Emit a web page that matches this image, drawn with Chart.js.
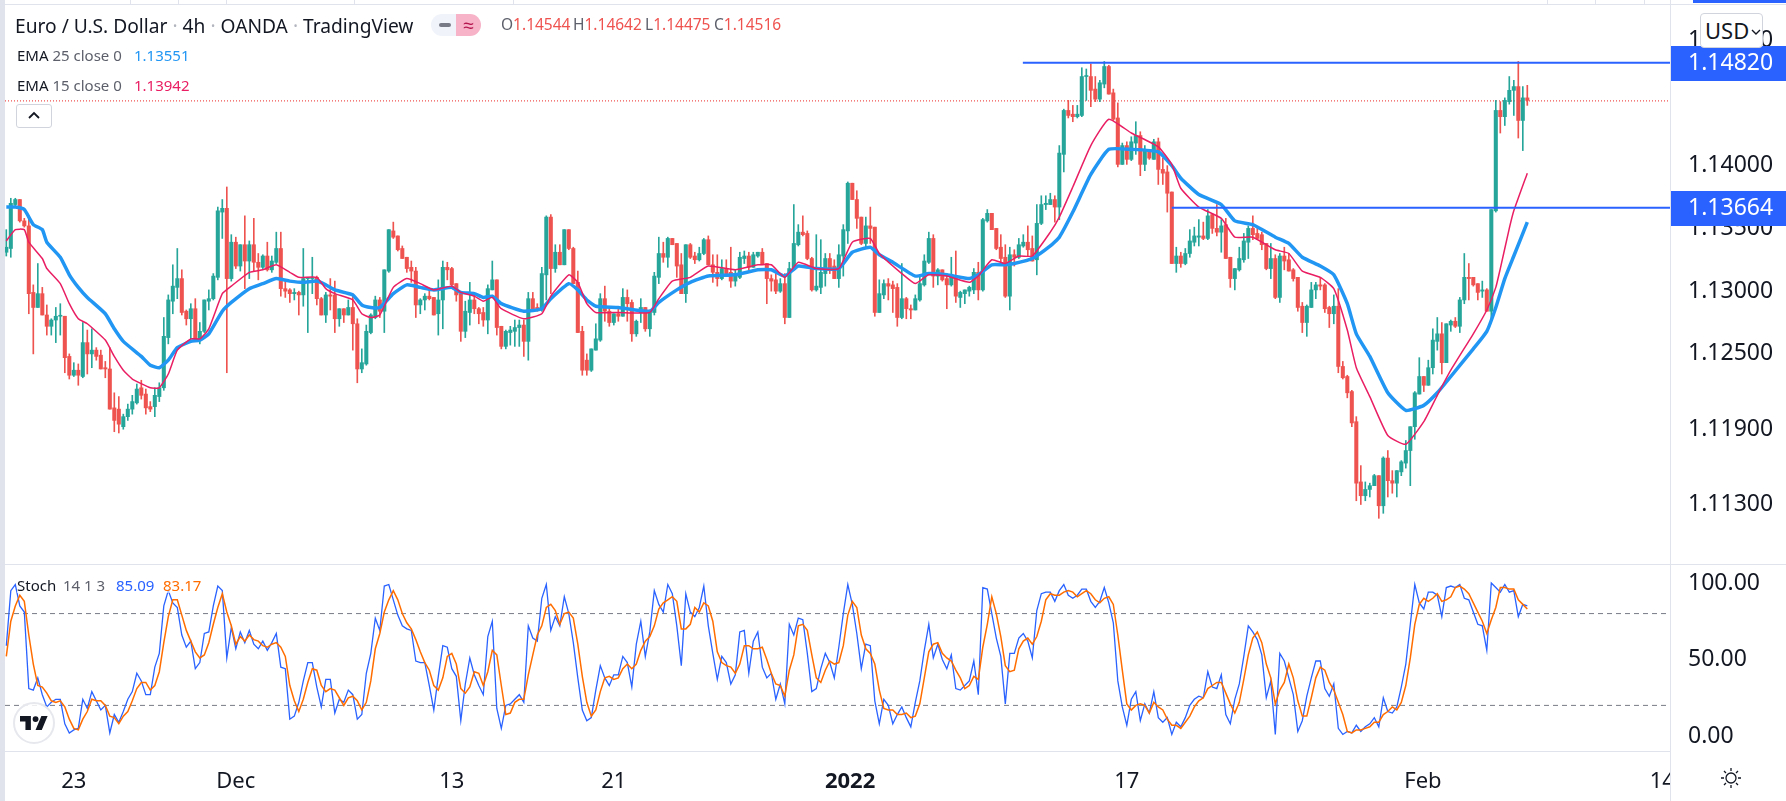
<!DOCTYPE html>
<html>
<head>
<meta charset="utf-8">
<title>Euro / U.S. Dollar</title>
<script src="https://cdn.jsdelivr.net/npm/chart.js@4/dist/chart.umd.min.js"></script>
<style>
html,body{margin:0;padding:0;background:#fff;overflow:hidden}
#wrap{position:relative;width:1786px;height:801px;font-family:"Noto Sans",sans-serif;color:#131722}
canvas{position:absolute;left:0;top:0}
.t{position:absolute;white-space:nowrap;line-height:1}
.l{position:absolute;background:#e0e3eb}
</style>
</head>
<body>
<div id="wrap">
<canvas id="mycanvas" width="1786" height="801"></canvas>

<div class="l" style="left:0;top:0;width:5px;height:801px"></div>
<div class="l" style="left:0;top:4px;width:1786px;height:1px"></div>
<div class="l" style="left:130px;top:0;width:1px;height:4px"></div>
<div class="l" style="left:178px;top:0;width:1px;height:4px"></div>
<div class="l" style="left:226px;top:0;width:1px;height:4px"></div>
<div class="l" style="left:354px;top:0;width:1px;height:4px"></div>
<div class="l" style="left:513px;top:0;width:1px;height:4px"></div>
<div class="l" style="left:1547px;top:0;width:1px;height:4px"></div>
<div class="l" style="left:1595px;top:0;width:1px;height:4px"></div>
<div class="l" style="left:1644px;top:0;width:1px;height:4px"></div>
<div style="position:absolute;left:1693px;top:0;width:93px;height:3px;background:#2962ff"></div>
<div style="position:absolute;left:1671px;top:752px;width:115px;height:49px;background:#fff"></div>
<div class="l" style="left:1670px;top:0;width:1px;height:801px"></div>
<div class="l" style="left:5px;top:564px;width:1781px;height:1px"></div>
<div class="l" style="left:5px;top:751px;width:1665px;height:1px"></div>

<div class="t" style="left:15px;top:16px;font-size:19.2px">Euro / U.S. Dollar <span style="color:#b2b5be">·</span> 4h <span style="color:#b2b5be">·</span> OANDA <span style="color:#b2b5be">·</span> TradingView</div>
<div style="position:absolute;left:431px;top:14px;width:25px;height:22px;background:#f0f3fa;border-radius:11px 0 0 11px"></div>
<div style="position:absolute;left:439px;top:23px;width:12px;height:4px;background:#787b86;border-radius:2px"></div>
<div class="t" style="left:456px;top:14px;width:25px;height:22px;background:#f7b3c8;border-radius:0 11px 11px 0;color:#b5174f;font-size:19px;line-height:22px;text-align:center">≈</div>

<div class="t" style="left:501px;top:17px;font-size:15.5px;color:#5d606b">O<span style="color:#ef5350">1.14544</span></div>
<div class="t" style="left:573px;top:17px;font-size:15.5px;color:#5d606b">H<span style="color:#ef5350">1.14642</span></div>
<div class="t" style="left:645px;top:17px;font-size:15.5px;color:#5d606b">L<span style="color:#ef5350">1.14475</span></div>
<div class="t" style="left:714px;top:17px;font-size:15.5px;color:#5d606b">C<span style="color:#ef5350">1.14516</span></div>

<div class="t" style="left:17px;top:48px;font-size:15px">EMA <span style="color:#5d606b">25 close 0</span></div>
<div class="t" style="left:134px;top:48px;font-size:15px;color:#2196f3">1.13551</div>
<div class="t" style="left:17px;top:78px;font-size:15px">EMA <span style="color:#5d606b">15 close 0</span></div>
<div class="t" style="left:134px;top:78px;font-size:15px;color:#e91e63">1.13942</div>

<div style="position:absolute;left:16px;top:104px;width:36px;height:24px;box-sizing:border-box;border:1px solid #d1d4dc;border-radius:3px;background:#fff">
<svg width="34" height="22" viewBox="0 0 34 22" style="display:block"><path d="M12 13l5-5 5 5" fill="none" stroke="#131722" stroke-width="1.8"/></svg>
</div>

<div class="t" style="left:17px;top:578px;font-size:15px;background:rgba(255,255,255,.6)">Stoch</div>
<div class="t" style="left:63px;top:578px;font-size:15px;color:#5d606b;background:rgba(255,255,255,.6)">14 1 3</div>
<div class="t" style="left:116px;top:578px;font-size:15px;color:#2962ff;background:rgba(255,255,255,.6)">85.09</div>
<div class="t" style="left:163px;top:578px;font-size:15px;color:#ff6d00;background:rgba(255,255,255,.6)">83.17</div>

<div style="position:absolute;left:13px;top:702px;width:42px;height:42px;box-sizing:border-box;border:2px solid #e6e8ee;border-radius:50%;background:rgba(255,255,255,.85)">
<svg width="28" height="16" viewBox="0 0 36 20" style="position:absolute;left:5px;top:11px"><path d="M14 19H7V8H0V1h14v18zM28 19h-8l7.5-18h8L28 19z" fill="#131722"/><circle cx="20" cy="5" r="3.8" fill="#131722"/></svg>
</div>

<div class="t" style="left:1700px;top:13px;width:63px;height:35px;box-sizing:border-box;background:#fff;border:1px solid #d1d4dc;border-radius:4px;font-size:22px;line-height:33px;padding-left:4px">USD<svg width="10" height="6" viewBox="0 0 10 6" style="position:absolute;left:50px;top:15px"><path d="M1 1l4 4 4-4" fill="none" stroke="#131722" stroke-width="1.4"/></svg></div>

<svg width="22" height="22" viewBox="0 0 22 22" style="position:absolute;left:1720px;top:767px" fill="none" stroke="#131722" stroke-width="1.3">
<circle cx="11" cy="11" r="5"/><path d="M11 1v3M11 18v3M1 11h3M18 11h3M4 4l2 2M16 16l2 2M18 4l-2 2M6 16l-2 2"/>
</svg>
</div>

<script>
// quotes are in 1/10000 of a dollar
var opens = [
11331,11334,11369,11373,11356,11352,11299,11287,11298,11281,
11272,11277,11280,11280,11248,11233,11237,11232,11259,11250,
11253,11249,11239,11238,11207,11206,11192,11200,11206,11211,
11223,11218,11208,11208,11216,11223,11263,11292,11303,11310,
11284,11278,11286,11261,11268,11292,11294,11311,11363,11366,
11310,11339,11320,11337,11324,11337,11323,11319,11328,11317,
11323,11334,11302,11301,11298,11299,11297,11310,11310,11311,
11294,11281,11297,11297,11278,11286,11281,11287,11274,11238,
11242,11267,11279,11293,11284,11316,11348,11344,11334,11327,
11319,11316,11289,11293,11296,11295,11282,11293,11319,11318,
11306,11298,11268,11283,11293,11286,11283,11277,11301,11309,
11272,11256,11267,11268,11271,11273,11260,11294,11287,11285,
11313,11359,11318,11331,11321,11349,11334,11307,11268,11245,
11237,11253,11261,11294,11284,11275,11282,11280,11295,11291,
11266,11283,11287,11270,11283,11311,11330,11327,11342,11338,
11321,11298,11337,11328,11325,11330,11341,11321,11315,11310,
11318,11315,11308,11311,11326,11328,11319,11328,11331,11322,
11310,11309,11300,11306,11279,11318,11337,11347,11346,11326,
11301,11303,11314,11326,11320,11310,11328,11348,11386,11373,
11359,11338,11352,11351,11283,11297,11306,11305,11303,11279,
11294,11286,11285,11293,11305,11323,11342,11312,11317,11310,
11305,11312,11295,11298,11300,11301,11315,11301,11356,11362,
11350,11335,11327,11296,11329,11327,11336,11339,11334,11325,
11354,11369,11369,11373,11367,11409,11444,11441,11439,11440,
11471,11471,11461,11453,11465,11479,11458,11438,11401,11416,
11405,11418,11424,11401,11412,11405,11419,11397,11395,11379,
11322,11328,11322,11330,11339,11343,11344,11342,11361,11350,
11347,11353,11327,11310,11317,11325,11339,11350,11346,11345,
11338,11318,11326,11295,11328,11325,11317,11311,11288,11275,
11287,11301,11305,11305,11287,11282,11288,11240,11232,11220,
11196,11148,11137,11142,11145,11153,11129,11167,11149,11147,
11156,11163,11173,11192,11218,11232,11225,11239,11260,11266,
11243,11273,11276,11272,11293,11311,11311,11306,11300,11301,
11284,11364,11444,11439,11451,11460,11463,11436,11454];
var highs = [
11349,11374,11374,11373,11358,11360,11305,11322,11303,11289,
11278,11287,11290,11280,11250,11243,11242,11275,11269,11270,
11255,11253,11244,11255,11219,11216,11202,11210,11217,11226,
11229,11222,11212,11223,11227,11279,11297,11321,11334,11317,
11285,11290,11294,11275,11293,11301,11314,11367,11373,11383,
11345,11343,11337,11360,11340,11358,11330,11329,11339,11328,
11347,11347,11308,11302,11302,11300,11334,11311,11327,11312,
11295,11299,11310,11308,11286,11286,11293,11298,11278,11254,
11273,11282,11296,11295,11317,11349,11355,11344,11336,11327,
11324,11319,11294,11298,11301,11295,11309,11324,11323,11319,
11306,11298,11292,11307,11298,11287,11287,11305,11324,11309,
11272,11269,11272,11277,11277,11277,11299,11299,11290,11319,
11360,11361,11337,11337,11349,11349,11335,11316,11272,11250,
11254,11274,11298,11304,11287,11282,11287,11302,11301,11293,
11277,11294,11287,11285,11315,11343,11339,11343,11342,11338,
11330,11337,11338,11331,11335,11342,11344,11329,11329,11325,
11325,11335,11317,11331,11332,11331,11331,11331,11334,11322,
11313,11314,11310,11314,11323,11369,11353,11360,11348,11327,
11345,11341,11330,11330,11325,11337,11353,11387,11386,11380,
11359,11359,11367,11351,11309,11309,11310,11308,11306,11322,
11295,11289,11297,11311,11329,11347,11345,11318,11317,11314,
11327,11332,11300,11301,11304,11318,11323,11358,11365,11362,
11350,11345,11337,11335,11333,11342,11345,11352,11344,11369,
11376,11376,11378,11376,11416,11445,11452,11448,11448,11478,
11477,11481,11471,11468,11483,11480,11461,11450,11418,11419,
11423,11435,11427,11416,11412,11421,11422,11406,11400,11379,
11335,11331,11334,11349,11351,11357,11355,11365,11362,11369,
11357,11358,11327,11318,11335,11346,11352,11360,11350,11347,
11338,11338,11329,11330,11335,11330,11318,11311,11291,11289,
11307,11307,11311,11306,11288,11297,11302,11244,11233,11221,
11200,11161,11148,11147,11154,11153,11168,11173,11157,11157,
11165,11181,11192,11220,11247,11232,11245,11270,11279,11275,
11274,11277,11279,11295,11330,11322,11311,11306,11308,11302,
11365,11452,11451,11454,11471,11468,11483,11463,11464];
var lows = [
11328,11327,11368,11355,11351,11282,11250,11287,11281,11265,
11265,11259,11265,11235,11230,11232,11225,11231,11234,11239,
11245,11238,11231,11206,11188,11187,11190,11197,11202,11210,
11214,11202,11204,11200,11212,11221,11258,11282,11294,11281,
11273,11262,11261,11258,11267,11285,11293,11309,11342,11235,
11308,11318,11316,11302,11310,11316,11309,11318,11316,11315,
11322,11296,11295,11291,11293,11281,11288,11267,11298,11289,
11281,11275,11285,11267,11272,11275,11281,11253,11227,11235,
11241,11266,11278,11279,11267,11315,11342,11332,11326,11315,
11307,11279,11282,11285,11293,11281,11265,11270,11309,11304,
11292,11260,11263,11273,11282,11274,11272,11266,11301,11265,
11254,11254,11257,11256,11256,11248,11245,11284,11284,11284,
11293,11298,11315,11321,11321,11333,11306,11267,11233,11233,
11236,11253,11260,11276,11272,11273,11276,11280,11276,11260,
11264,11275,11268,11264,11281,11306,11323,11319,11337,11311,
11298,11291,11326,11322,11324,11329,11321,11307,11304,11309,
11314,11303,11304,11310,11322,11317,11319,11327,11321,11290,
11300,11298,11299,11274,11279,11317,11336,11344,11325,11300,
11300,11298,11304,11314,11310,11303,11312,11338,11373,11350,
11337,11335,11338,11280,11283,11294,11293,11283,11272,11278,
11278,11278,11285,11292,11304,11322,11303,11305,11308,11286,
11304,11291,11287,11290,11296,11298,11293,11300,11355,11349,
11333,11321,11295,11285,11320,11326,11335,11328,11324,11313,
11353,11365,11369,11355,11357,11395,11438,11435,11438,11439,
11452,11447,11451,11451,11462,11457,11436,11399,11401,11401,
11404,11409,11392,11396,11405,11405,11385,11385,11363,11322,
11315,11319,11321,11327,11336,11336,11341,11341,11346,11344,
11331,11326,11303,11301,11316,11323,11326,11341,11341,11333,
11317,11310,11294,11291,11317,11316,11308,11284,11267,11264,
11287,11294,11301,11283,11271,11274,11235,11230,11215,11192,
11133,11130,11133,11136,11145,11119,11123,11136,11139,11136,
11153,11159,11145,11182,11218,11220,11225,11234,11253,11234,
11243,11268,11271,11267,11290,11293,11304,11293,11295,11284,
11277,11363,11426,11432,11449,11440,11422,11412,11448];
var closes = [
11335,11370,11373,11356,11352,11298,11287,11298,11281,11272,
11277,11280,11280,11247,11233,11237,11233,11259,11250,11253,
11248,11238,11238,11206,11197,11194,11200,11206,11212,11222,
11217,11207,11206,11217,11223,11264,11293,11304,11310,11283,
11278,11286,11262,11268,11293,11294,11312,11364,11366,11310,
11339,11320,11337,11324,11337,11323,11319,11328,11317,11324,
11334,11302,11300,11298,11299,11297,11310,11310,11310,11294,
11281,11297,11296,11278,11286,11281,11287,11274,11238,11243,
11268,11281,11293,11284,11317,11349,11343,11333,11326,11318,
11316,11289,11293,11296,11294,11281,11293,11319,11317,11305,
11297,11268,11284,11293,11286,11282,11277,11302,11309,11271,
11256,11268,11269,11271,11273,11260,11294,11286,11285,11314,
11359,11318,11331,11321,11349,11334,11306,11267,11237,11237,
11254,11262,11294,11284,11275,11282,11280,11295,11290,11266,
11276,11287,11270,11284,11312,11330,11327,11342,11337,11320,
11298,11337,11327,11325,11330,11341,11321,11315,11310,11318,
11314,11308,11314,11327,11328,11319,11329,11331,11321,11310,
11308,11300,11306,11279,11318,11338,11347,11345,11326,11301,
11304,11315,11326,11318,11310,11329,11349,11386,11373,11358,
11338,11352,11350,11283,11298,11306,11304,11302,11279,11294,
11286,11285,11294,11306,11324,11342,11312,11317,11309,11305,
11312,11296,11299,11301,11303,11315,11301,11357,11362,11349,
11334,11326,11296,11329,11327,11337,11339,11333,11324,11354,
11369,11370,11373,11367,11410,11444,11440,11439,11441,11471,
11471,11460,11453,11466,11479,11457,11437,11401,11416,11405,
11419,11424,11401,11412,11406,11419,11397,11394,11378,11322,
11328,11322,11330,11340,11344,11344,11342,11360,11350,11347,
11352,11326,11310,11318,11326,11340,11350,11345,11342,11337,
11318,11326,11295,11328,11324,11316,11310,11287,11275,11288,
11301,11305,11304,11286,11282,11288,11240,11231,11219,11195,
11147,11137,11142,11145,11153,11129,11167,11149,11147,11157,
11164,11173,11192,11219,11232,11225,11239,11261,11266,11243,
11274,11276,11272,11293,11311,11310,11305,11299,11301,11284,
11365,11444,11439,11452,11460,11463,11436,11454,11452];

// averages read at the bars where the curve bends
var ema25Bars = [0,2,4,6,8,9,12,14,16,18,22,24,26,30,32,34,36,38,41,43,45,48,50,54,57,60,63,66,69,71,73,77,79,81,83,86,89,92,95,99,101,104,106,108,110,115,119,121,125,127,129,131,136,143,145,149,152,156,162,167,170,173,176,180,185,188,192,194,197,202,205,209,214,216,219,222,224,228,232,234,237,241,245,250,256,259,261,265,270,273,277,282,285,288,292,295,298,300,303,307,311,315,318,321,326,329,331,333,335,338];
var ema25 = [11367,11367,11365,11353,11349,11339,11327,11313,11303,11295,11282,11270,11260,11248,11241,11239,11245,11255,11260,11261,11266,11284,11291,11302,11306,11310,11308,11307,11308,11305,11301,11297,11289,11287,11287,11298,11305,11303,11301,11303,11299,11298,11295,11296,11290,11284,11286,11294,11306,11301,11293,11288,11287,11284,11291,11301,11307,11312,11313,11317,11317,11312,11320,11318,11318,11331,11335,11329,11323,11312,11314,11313,11310,11313,11321,11321,11322,11326,11336,11343,11363,11393,11413,11413,11411,11400,11390,11377,11369,11356,11353,11343,11338,11327,11320,11313,11290,11266,11248,11219,11205,11209,11219,11232,11254,11268,11287,11310,11328,11355];
var ema15Bars = [0,2,4,5,8,9,12,14,16,18,22,24,26,28,32,34,36,38,41,43,45,48,50,54,57,60,63,65,69,71,73,77,79,81,83,86,89,92,95,99,101,104,106,108,110,115,119,121,125,127,129,131,136,143,145,148,152,156,162,167,170,173,176,180,185,188,192,194,199,202,205,209,214,216,219,222,225,228,232,234,237,241,245,250,256,259,261,265,270,273,277,282,285,288,292,295,298,300,303,307,311,315,318,321,326,329,331,332,334,335,338];
var ema15 = [11340,11349,11349,11339,11326,11318,11306,11290,11278,11274,11261,11248,11237,11230,11223,11223,11234,11253,11262,11262,11270,11298,11304,11315,11317,11321,11315,11311,11311,11302,11298,11293,11282,11279,11281,11303,11310,11306,11301,11304,11299,11296,11292,11295,11286,11278,11282,11296,11313,11307,11290,11283,11283,11283,11294,11308,11311,11320,11317,11321,11321,11311,11323,11318,11318,11339,11342,11330,11314,11306,11313,11312,11307,11312,11325,11322,11328,11328,11347,11359,11383,11416,11437,11426,11415,11401,11382,11367,11358,11343,11343,11333,11330,11316,11311,11302,11269,11239,11216,11185,11178,11196,11217,11237,11266,11285,11303,11318,11350,11364,11394];

var stochK = [
59,95,99,85,81,31,30,38,27,19,22,24,24,8,2,4,5,24,18,29,
23,17,20,2,14,9,16,24,29,41,36,27,27,45,54,85,95,87,84,66,
58,62,44,48,67,68,85,98,95,51,71,57,68,61,69,60,57,62,56,61,
67,45,44,11,13,22,36,48,48,32,19,37,37,15,24,22,30,27,11,14,
41,54,77,69,98,99,89,79,72,70,69,49,48,48,33,17,39,59,58,44,
39,10,34,51,40,33,27,65,75,18,5,20,21,24,27,22,72,64,62,90,
99,69,78,72,91,80,61,38,17,10,12,30,46,38,33,40,40,52,48,32,
60,75,52,68,95,86,81,99,93,72,46,93,81,78,84,98,72,54,37,52,
48,34,40,68,69,41,62,68,45,38,41,24,34,21,73,66,77,76,54,29,
31,44,54,48,38,58,80,99,86,67,44,60,59,23,8,24,20,8,14,19,
12,6,22,36,56,73,51,60,50,44,53,31,30,33,36,49,27,97,96,80,
64,52,21,54,54,64,67,62,51,82,93,94,94,88,95,99,92,90,92,96,
96,88,84,88,97,87,74,36,19,7,24,29,10,21,15,29,12,9,12,1,
9,6,12,20,24,26,25,42,32,31,40,14,8,24,34,52,72,68,63,53,
25,36,1,54,49,38,27,3,10,26,38,49,49,31,26,34,5,1,3,2,
7,3,6,8,12,6,25,16,15,19,32,47,73,99,87,83,94,94,92,78,
97,98,97,99,90,89,81,73,72,56,100,97,94,99,94,95,78,86,85];
var stochD = [
52,75,85,92,88,66,47,33,32,28,23,22,23,19,11,5,4,11,16,24,
23,23,20,13,12,8,13,16,23,31,35,35,30,33,42,61,78,89,89,79,
69,62,55,51,53,61,73,84,93,81,72,60,65,62,66,63,62,59,58,60,
61,58,52,33,23,16,24,35,44,43,33,29,31,30,25,20,25,26,23,17,
22,36,57,67,81,89,95,89,80,74,70,63,55,48,43,33,30,38,52,54,
47,31,28,32,42,41,33,42,56,53,33,14,15,22,24,24,40,53,66,72,
84,86,82,73,80,81,77,60,39,22,13,17,29,38,39,37,38,44,47,44,
47,56,62,65,72,83,87,89,91,88,70,70,73,84,81,87,85,75,55,48,
46,45,41,47,59,59,57,57,58,50,41,34,33,26,43,53,72,73,69,53,
38,35,43,49,47,48,59,79,88,84,66,57,54,47,30,18,17,17,14,14,
15,12,13,21,38,55,60,61,54,51,49,43,38,31,33,39,37,58,73,91,
80,65,46,42,43,57,62,64,60,65,75,89,93,92,92,94,95,94,91,93,
95,93,89,87,90,91,86,66,43,21,17,20,21,20,15,22,19,17,11,7,
7,5,9,13,19,23,25,31,33,35,35,28,21,15,22,37,53,64,68,61,
47,38,21,30,35,47,38,23,13,13,25,38,45,43,35,30,22,14,3,2,
4,4,5,6,9,9,14,16,19,17,22,33,51,73,86,90,88,90,93,88,
89,91,97,98,96,93,87,81,75,67,76,84,97,97,96,96,89,86,83];

var priceTicks = [1.15, 1.14, 1.135, 1.13, 1.125, 1.119, 1.113];
var stochTicks = [0, 50, 100];
var timeLabels = ['23','Dec','13','21','2022','17','Feb','14'];
var timeBars = [15, 51, 99, 135, 187.5, 249, 314.8, 368];
var levelPrices = [1.14820, 1.13664];
var levelFromBar = [225.9, 259];
var lastPrice = 1.14516;
var stochBands = [80, 20];

var UP = '#26a69a', DOWN = '#ef5350', FONT = '"Noto Sans", sans-serif';
var xMin = -0.29, xMax = 369.71;

function price(v) { return v / 10000; }
function barColor(i) { return closes[i] >= opens[i] ? UP : DOWN; }

var wicks = [], bodies = [], kLine = [], dLine = [];
for (var i = 0; i < opens.length; i++) {
    wicks.push({ x: i, y: [price(lows[i]), price(highs[i])] });
    bodies.push({ x: i, y: [price(opens[i]), price(closes[i])] });
    kLine.push({ x: i, y: stochK[i] });
    dLine.push({ x: i, y: stochD[i] });
}
function series(bars, vals) {
    return bars.map(function (b, j) { return { x: b, y: price(vals[j]) }; });
}
function flatLine(y, from) {
    return [{ x: from, y: y }, { x: xMax, y: y }];
}
function line(label, data, yAxis, color, width, order, dash, tension) {
    return {
        type: 'line', label: label, data: data, yAxisID: yAxis,
        borderColor: color, borderWidth: width, borderDash: dash || [],
        pointRadius: 0, tension: tension || 0, order: order, parsing: true
    };
}
function noPadding(s) {
    s.paddingLeft = s.paddingRight = s.paddingTop = s.paddingBottom = 0;
}

var badges = {
    id: 'badges',
    afterDraw: function (chart) {
        var c = chart.ctx, s = chart.scales.y;
        levelPrices.forEach(function (p) {
            var y = s.getPixelForValue(p);
            c.fillStyle = '#2962ff';
            c.fillRect(chart.chartArea.right, Math.round(y) - 17, chart.width - chart.chartArea.right, 35);
            c.fillStyle = '#fff';
            c.font = '23px ' + FONT;
            c.textBaseline = 'middle';
            c.fillText(p.toFixed(5), chart.chartArea.right + 18, y + 1);
        });
    }
};

var ctx = document.getElementById('mycanvas');
var chart = new Chart(ctx, {
    type: 'bar',
    plugins: [badges],
    data: {
        datasets: [
            line('Level 1', flatLine(levelPrices[0], levelFromBar[0]), 'y', '#2962ff', 2, 1),
            line('Level 2', flatLine(levelPrices[1], levelFromBar[1]), 'y', '#2962ff', 2, 1),
            line('EMA 15', series(ema15Bars, ema15), 'y', '#e91e63', 1.5, 2, null, 0.15),
            line('EMA 25', series(ema25Bars, ema25), 'y', '#2196f3', 3.5, 3, null, 0.15),
            { label: 'Body', data: bodies, yAxisID: 'y', grouped: false, barThickness: 3.4, minBarLength: 1,
              backgroundColor: bodies.map(function (b, k) { return barColor(k); }), order: 4 },
            { label: 'Wick', data: wicks, yAxisID: 'y', grouped: false, barThickness: 1,
              backgroundColor: wicks.map(function (b, k) { return barColor(k); }), order: 5 },
            line('Last', flatLine(lastPrice, xMin), 'y', '#ef5350', 1.2, 9, [1, 2]),
            line('%D', dLine, 'y2', '#ff6d00', 1.5, 2),
            line('%K', kLine, 'y2', '#2962ff', 1.3, 3),
            line('Band 80', flatLine(stochBands[0], xMin), 'y2', '#787b86', 1, 6, [5, 4]),
            line('Band 20', flatLine(stochBands[1], xMin), 'y2', '#787b86', 1, 6, [5, 4])
        ]
    },
    options: {
        responsive: false,
        animation: false,
        devicePixelRatio: 1,
        events: [],
        layout: { autoPadding: false, padding: { left: 5, top: 5, right: 0, bottom: 0 } },
        plugins: { legend: { display: false }, tooltip: { enabled: false } },
        scales: {
            x: {
                type: 'linear', min: xMin, max: xMax, offset: false,
                grid: { display: false }, border: { display: false },
                afterFit: function (s) { s.height = 50; noPadding(s); },
                afterBuildTicks: function (s) {
                    s.ticks = timeBars.map(function (v) { return { value: v }; });
                },
                ticks: {
                    autoSkip: false, maxRotation: 0, padding: 10, color: '#131722',
                    font: function (c) {
                        var bold = c.tick && timeLabels[timeBars.indexOf(c.tick.value)] === '2022';
                        return { family: FONT, size: 22, weight: bold ? 'bold' : 'normal' };
                    },
                    callback: function (v) { return timeLabels[timeBars.indexOf(v)]; }
                }
            },
            y: {
                position: 'right', stack: 'panes', stackWeight: 559,
                min: 1.10826, max: 1.1528,
                grid: { display: false, drawTicks: false }, border: { display: false },
                afterFit: function (s) { s.width = 116; noPadding(s); },
                afterBuildTicks: function (s) {
                    s.ticks = priceTicks.map(function (v) { return { value: v }; });
                },
                ticks: {
                    padding: 18, color: '#131722', font: { family: FONT, size: 23 },
                    callback: function (v) { return v.toFixed(5); }
                }
            },
            y2: {
                position: 'right', stack: 'panes', stackWeight: 187,
                min: -9.8, max: 112.4,
                grid: { display: false, drawTicks: false }, border: { display: false },
                afterFit: function (s) { s.width = 116; noPadding(s); },
                afterBuildTicks: function (s) {
                    s.ticks = stochTicks.map(function (v) { return { value: v }; });
                },
                ticks: {
                    padding: 18, color: '#131722', font: { family: FONT, size: 23 },
                    callback: function (v) { return v.toFixed(2); }
                }
            }
        }
    }
});
</script>
</body>
</html>
